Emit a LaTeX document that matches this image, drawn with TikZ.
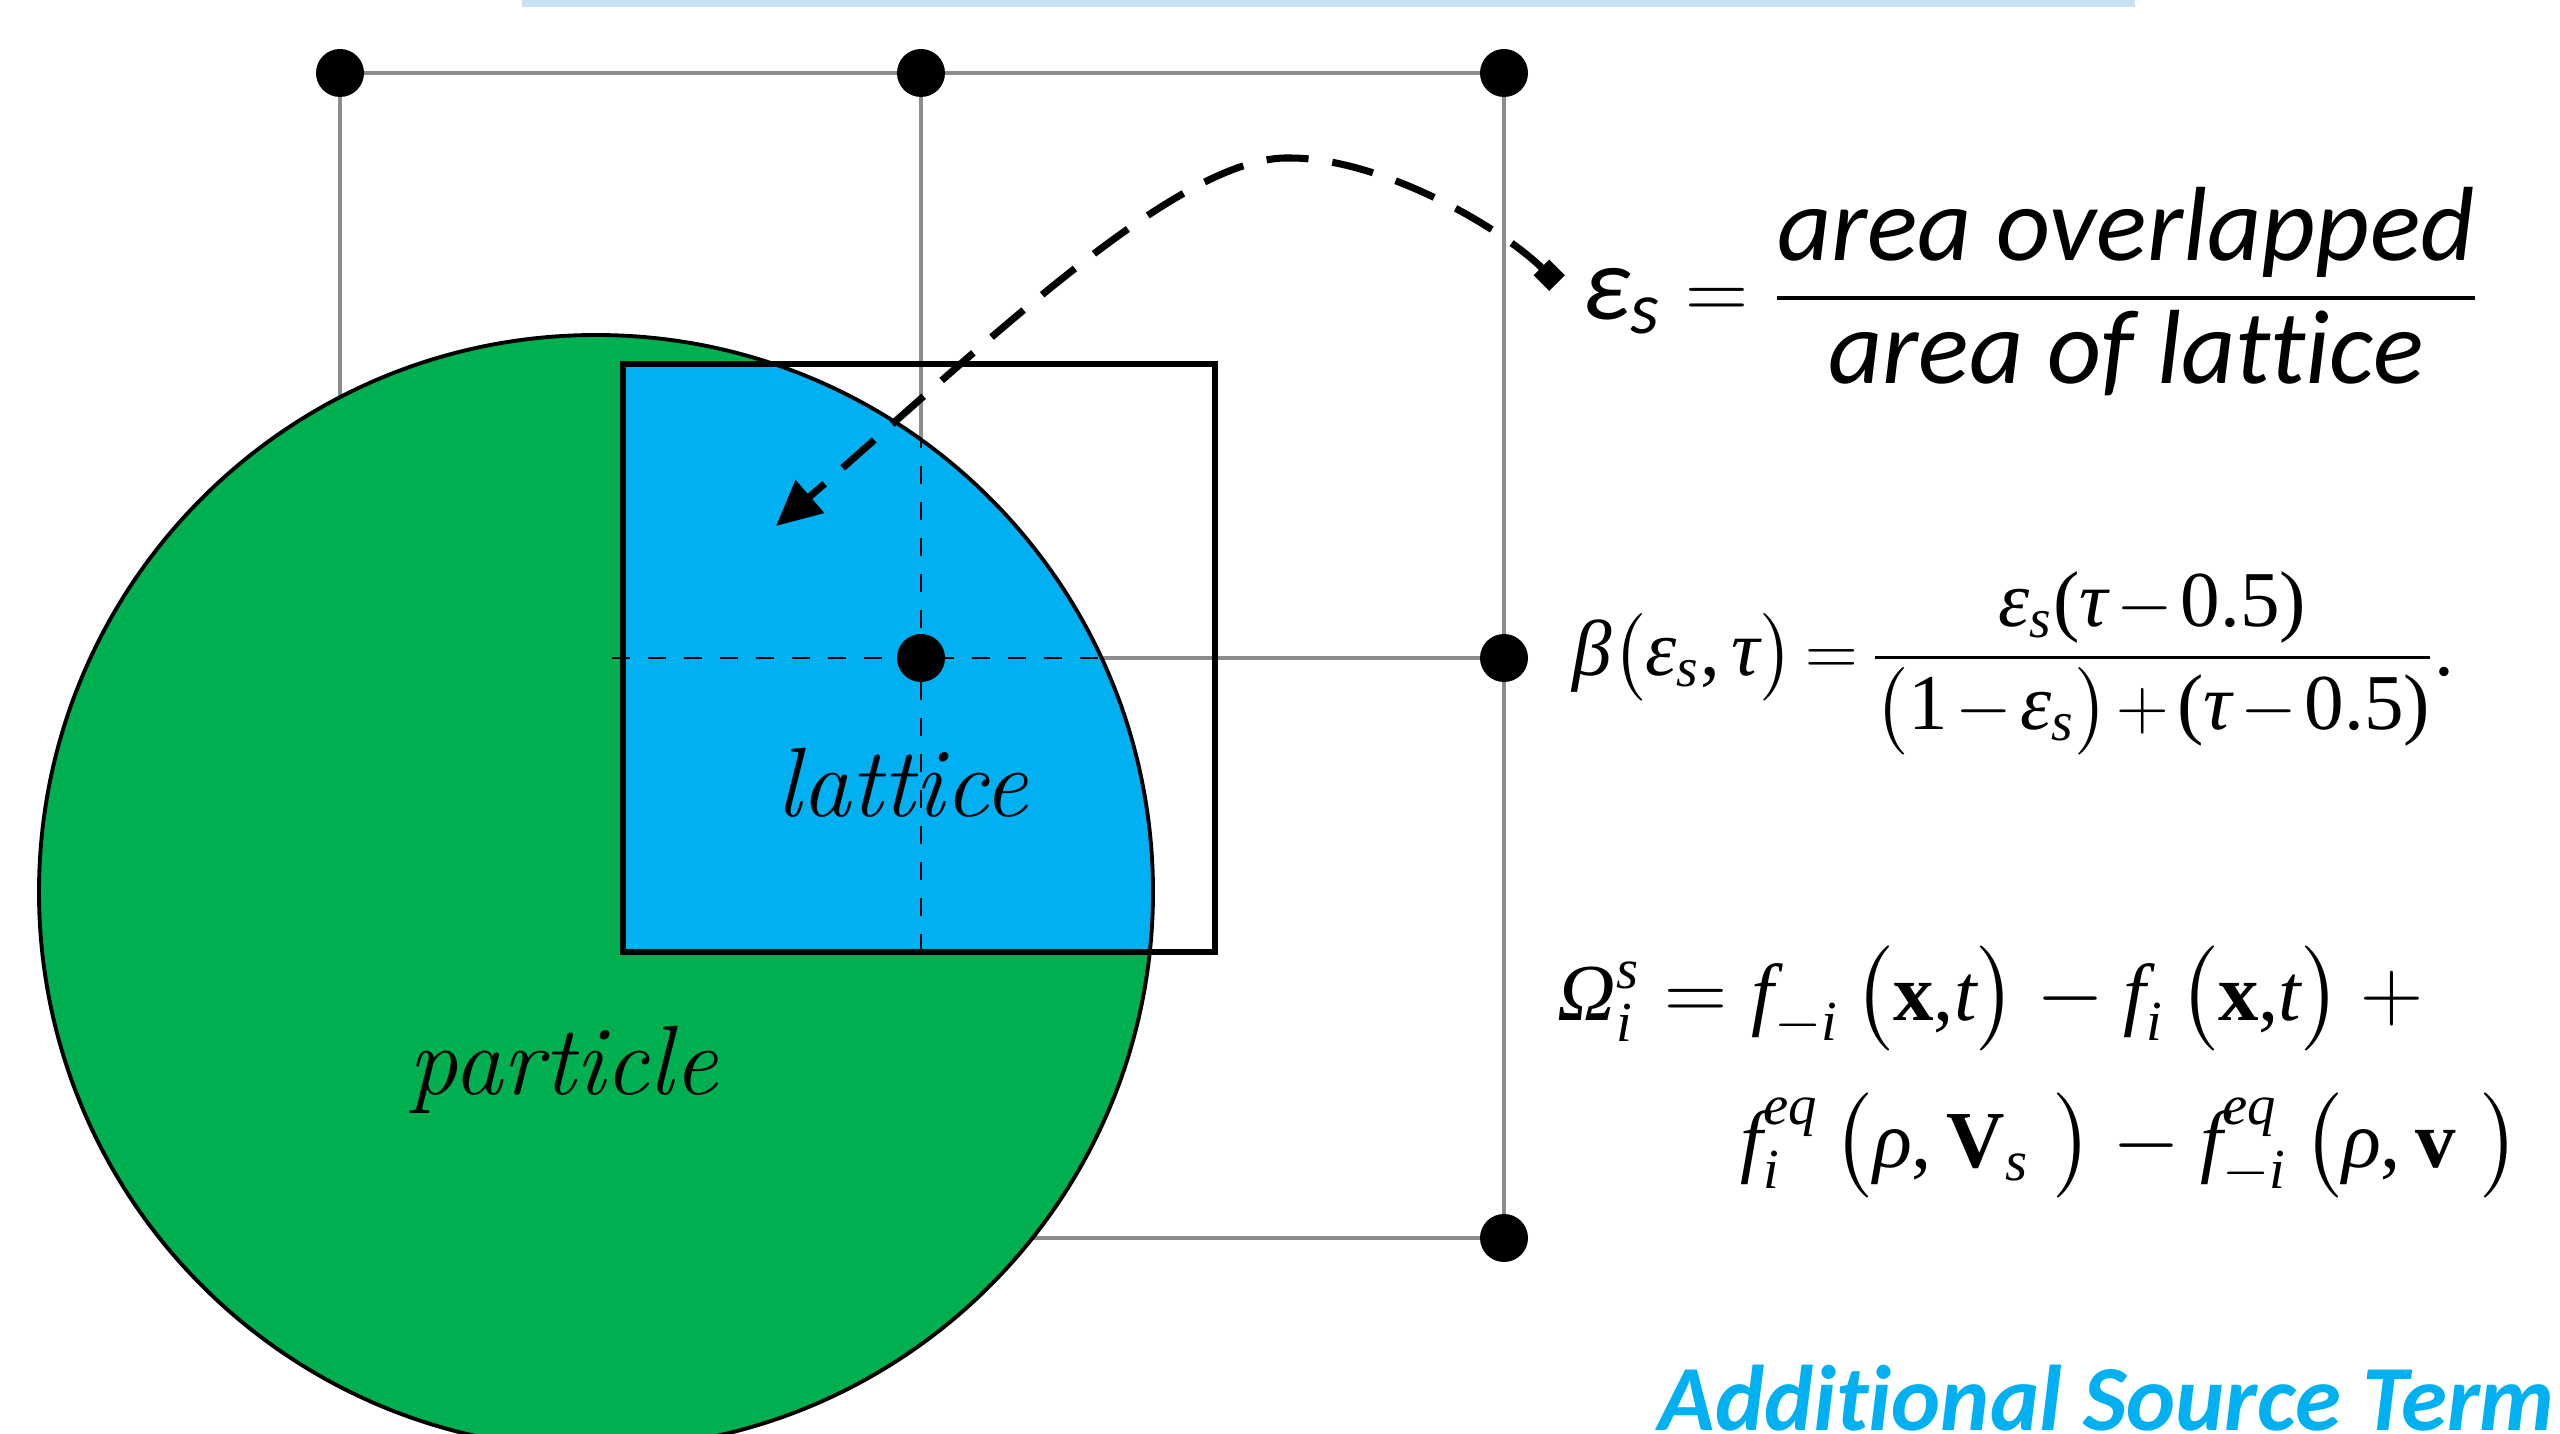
\documentclass[tikz,border=0pt]{standalone}
\usepackage{amsmath}
\usepackage[no-math]{fontspec}
\newfontfamily\calfont[Ligatures=NoCommon]{Carlito}
\newfontfamily\tnrfont{Liberation Serif}
\newcommand{\tvi}[1]{\text{\tnrfont\itshape #1}}
\newcommand{\tvr}[1]{\text{\tnrfont #1}}
\newcommand{\tvb}[1]{\text{\tnrfont\bfseries #1}}
\newcommand{\tightspacing}{\medmuskip=2mu\relax\thickmuskip=3mu\relax}
\usetikzlibrary{arrows.meta}

\definecolor{partgreen}{RGB}{0,176,80}
\definecolor{latblue}{RGB}{0,176,240}
\definecolor{gridgray}{RGB}{140,140,140}
\definecolor{barblue}{RGB}{200,225,245}

\begin{document}
\begin{tikzpicture}[
  x=0.01cm, y=-0.01cm,
  gridline/.style={draw=gridgray, line width=1.1pt},
  axisdash/.style={draw=black, line width=0.8pt, dash pattern=on 0.18cm off 0.18cm},
  flowarrow/.style={line width=2pt, dash pattern=on 0.42cm off 0.24cm,
    {Square[length=0.22cm,width=0.22cm]}-{Triangle[length=0.45cm,width=0.42cm]}},
  labeltext/.style={font=\fontsize{28}{32}\selectfont\itshape, inner sep=0},
  fractext/.style={font=\fontsize{30}{34}\selectfont, inner sep=0},
  eqtext/.style={font=\fontsize{23}{27}\selectfont, inner sep=0}
]
  \useasboundingbox (0,0) rectangle (2560,1434);
  \fill[barblue] (522,0) rectangle (2135,7);

  % lattice points
  \foreach \i/\x in {1/340,2/921,3/1504}
    \foreach \j/\y in {1/73,2/658,3/1238}
      \coordinate (g\i\j) at (\x,\y);
  \coordinate (partc) at (596,892);
  \coordinate (overlap) at (776,526);

  \foreach \k in {1,2,3} {
    \draw[gridline] (g1\k) -- (g3\k);
    \draw[gridline] (g\k1) -- (g\k3);
  }

  % particle and covered cell
  \fill[partgreen] (partc) circle[radius=557];
  \begin{scope}
    \clip (partc) circle[radius=557];
    \fill[latblue] (623,364) rectangle (1215,952);
    \draw[axisdash] (612,658) -- (1215,658);
    \draw[axisdash] (g22) ++(0,-300) -- (921,952);
  \end{scope}
  \draw[line width=1.1pt] (partc) circle[radius=557];
  \draw[line width=1.9pt] (623,364) rectangle (1215,952);

  \foreach \p in {g11,g21,g31,g22,g32,g33}
    \fill (\p) circle[radius=24];

  \node[labeltext, anchor=base west] (latlabel) at (776,817) {lattice};
  \node[labeltext, anchor=base west] (partlabel) at (408,1094) {particle};

  % equations
  \node[fractext, anchor=base west] (epsfrac) at (1582,320)
    {$\text{\calfont\itshape ε}_{\text{\calfont\itshape s}} = \dfrac{\text{\calfont\itshape area overlapped}}{\text{\calfont\itshape area of lattice}}$};
  \node[eqtext, font=\fontsize{22.5}{26}\selectfont, anchor=base west] (betaeq) at (1572,676)
    {$\tightspacing\tvi{β}\bigl(\tvi{ε}_{\tvi{s}}\tvr{,}\,\tvi{τ}\bigr)=\dfrac{\tvi{ε}_{\tvi{s}}\tvr{(}\tvi{τ}-\tvr{0.5}\tvr{)}}{\bigl(\tvr{1}-\tvi{ε}_{\tvi{s}}\bigr)+\tvr{(}\tvi{τ}-\tvr{0.5}\tvr{)}}\tvr{.}$};
  \node[eqtext, anchor=base west] (omegaA) at (1557,1020)
    {$\tvi{Ω}_{\tvi{i}}^{\tvi{s}} = \tvi{f}_{-\tvi{i}}\,\bigl(\tvb{x}\tvr{,}\tvi{t}\bigr)-\tvi{f}_{\tvi{i}}\,\bigl(\tvb{x}\tvr{,}\tvi{t}\bigr)+{}$};
  \node[eqtext, anchor=base west] (omegaB) at (1740,1167)
    {$\tvi{f}_{\tvi{i}}^{\tvi{eq}}\,\bigl(\tvi{ρ}\tvr{,}\,\tvb{V}_{\tvi{s}}\;\bigr)-\tvi{f}_{-\tvi{i}}^{\tvi{eq}}\,\bigl(\tvi{ρ}\tvr{,}\,\tvb{v}\;\bigr)$};

  \node[anchor=base west, inner sep=0, text=latblue,
    font=\calfont\bfseries\itshape\fontsize{26.5}{30}\selectfont] (srcterm) at (1658,1430) {Additional Source Term};

  \draw[flowarrow] ([shift={(-25,-37)}]epsfrac.base west)
    .. controls (1500,226) and (1380,158) .. (1290,158)
    .. controls (1180,155) and (990,340) .. (overlap);
\end{tikzpicture}
\end{document}
